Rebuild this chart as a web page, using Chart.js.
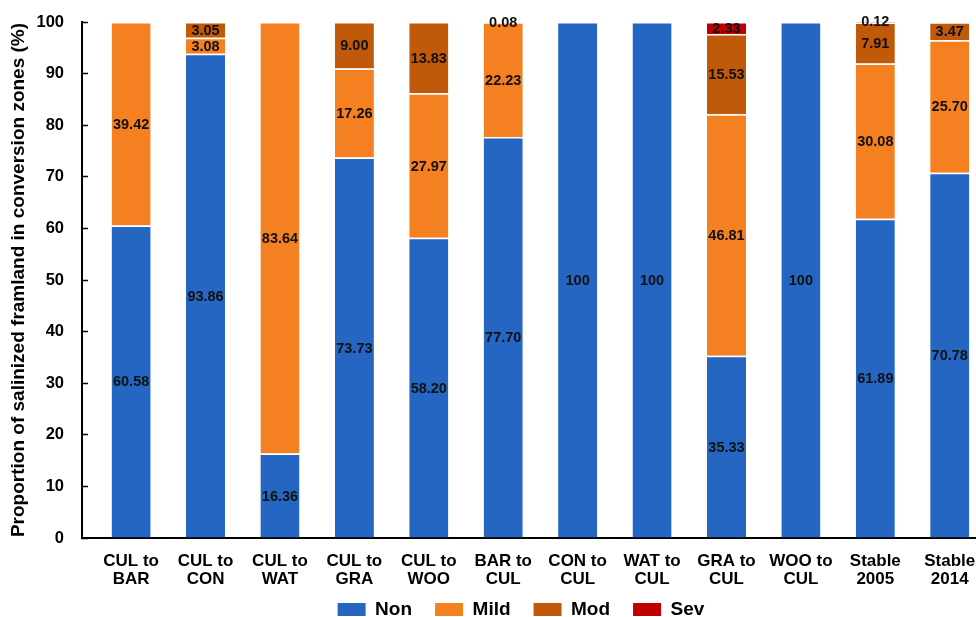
<!DOCTYPE html>
<html>
<head>
<meta charset="utf-8">
<script src="https://cdn.jsdelivr.net/npm/chart.js@4.4.1/dist/chart.umd.min.js"></script>
<style>
  html, body { margin: 0; padding: 0; background: #fff; overflow: hidden; width: 976px; height: 617px; }
  #wrap { width: 1042px; height: 617px; }
</style>
</head>
<body>
<div id="wrap"><canvas id="c" width="1042" height="617"></canvas></div>
<script>
// ---- data ----
const categories = [
  ['CUL to', 'BAR'], ['CUL to', 'CON'], ['CUL to', 'WAT'], ['CUL to', 'GRA'],
  ['CUL to', 'WOO'], ['BAR to', 'CUL'], ['CON to', 'CUL'], ['WAT to', 'CUL'],
  ['GRA to', 'CUL'], ['WOO to', 'CUL'], ['Stable', '2005'], ['Stable', '2014']
];
const seriesNames = ['Non', 'Mild', 'Mod', 'Sev'];
const nonValues  = [60.58, 93.86, 16.36, 73.73, 58.20, 77.70, 100, 100, 35.33, 100, 61.89, 70.78];
const mildValues = [39.42, 3.08, 83.64, 17.26, 27.97, 22.23, null, null, 46.81, null, 30.08, 25.70];
const modValues  = [null, 3.05, null, 9.00, 13.83, 0.08, null, null, 15.53, null, 7.91, 3.47];
const sevValues  = [null, null, null, null, null, null, null, null, 2.33, null, 0.12, 0.05];
const yTicks = [0, 10, 20, 30, 40, 50, 60, 70, 80, 90, 100];
const yTitle = 'Proportion of salinized framland in conversion zones (%)';

const colors = ['#2566C2', '#F58021', '#C1590B', '#C00000'];
const FONT = '"Liberation Sans", Arial, Helvetica, sans-serif';

const segLabels = {
  id: 'segLabels',
  afterDatasetsDraw(chart) {
    const ctx = chart.ctx;
    ctx.save();
    ctx.font = 'bold 14.5px ' + FONT;
    ctx.fillStyle = '#111';
    ctx.textAlign = 'center';
    ctx.textBaseline = 'middle';
    chart.data.datasets.forEach((ds, di) => {
      const meta = chart.getDatasetMeta(di);
      meta.data.forEach((el, i) => {
        const v = ds.data[i];
        if (v == null || v < 0.07) return;
        const p = el.getProps(['x', 'y', 'base'], true);
        const txt = v === 100 ? '100' : v.toFixed(2);
        ctx.fillText(txt, p.x, (p.y + p.base) / 2 + 1);
      });
    });
    ctx.restore();
  }
};

const allSeries = [nonValues, mildValues, modValues, sevValues];
const datasets = allSeries.map((vals, k) => ({
  label: seriesNames[k],
  data: vals,
  backgroundColor: colors[k],
  borderColor: '#ffffff',
  borderWidth: { top: 1.5, left: 0, right: 0, bottom: 0 },
  borderSkipped: false,
  barPercentage: 0.525,
  categoryPercentage: 1.0,
  minBarLength: k === 3 ? 4 : 0
}));

new Chart(document.getElementById('c'), {
  type: 'bar',
  data: { labels: categories.map((c, i) => i), datasets },
  plugins: [segLabels],
  options: {
    responsive: false,
    animation: false,
    events: [],
    layout: { padding: { top: 22, left: 0, right: 0, bottom: 0 } },
    scales: {
      x: {
        type: 'linear',
        stacked: true,
        min: -0.66,
        max: 12.24,
        offset: false,
        afterBuildTicks: (s) => { s.ticks = categories.map((c, i) => ({ value: i })); },
        afterFit: (s) => { s.height = 56; s.paddingLeft = 0; s.paddingRight = 0; },
        grid: { display: false, drawTicks: false },
        border: { display: true, color: '#000', width: 2 },
        ticks: {
          autoSkip: false,
          maxRotation: 0,
          padding: 14,
          color: '#000',
          font: { family: FONT, size: 17, weight: 'bold', lineHeight: 1.08 },
          callback: (v) => categories[v] || ''
        }
      },
      y: {
        stacked: true,
        min: 0,
        max: 100,
        afterBuildTicks: (s) => { s.ticks = yTicks.map(v => ({ value: v })); },
        afterFit: (s) => { s.width = 82; s.paddingTop = 0; s.paddingBottom = 0; },
        grid: { drawOnChartArea: false, drawTicks: true, tickLength: -6, tickColor: '#000', tickWidth: 1.5 },
        border: { display: true, color: '#000', width: 2 },
        ticks: {
          padding: 24,
          color: '#000',
          font: { family: FONT, size: 16.5, weight: 'bold' }
        },
        title: {
          display: true,
          text: yTitle,
          color: '#000',
          padding: { top: 7, bottom: 0 },
          font: { family: FONT, size: 19, weight: 'bold' }
        }
      }
    },
    plugins: {
      tooltip: { enabled: false },
      legend: {
        position: 'bottom',
        maxHeight: 23,
        title: { display: true, text: '', padding: { top: -18, bottom: 0 }, font: { size: 1, lineHeight: 1 } },
        labels: {
          boxWidth: 28,
          boxHeight: 13,
          padding: 23,
          color: '#000',
          font: { family: FONT, size: 19, weight: 'bold' },
          generateLabels: (chart) => Chart.defaults.plugins.legend.labels.generateLabels(chart).map(l => Object.assign(l, { lineWidth: 0 }))
        }
      }
    }
  }
});
</script>
</body>
</html>
